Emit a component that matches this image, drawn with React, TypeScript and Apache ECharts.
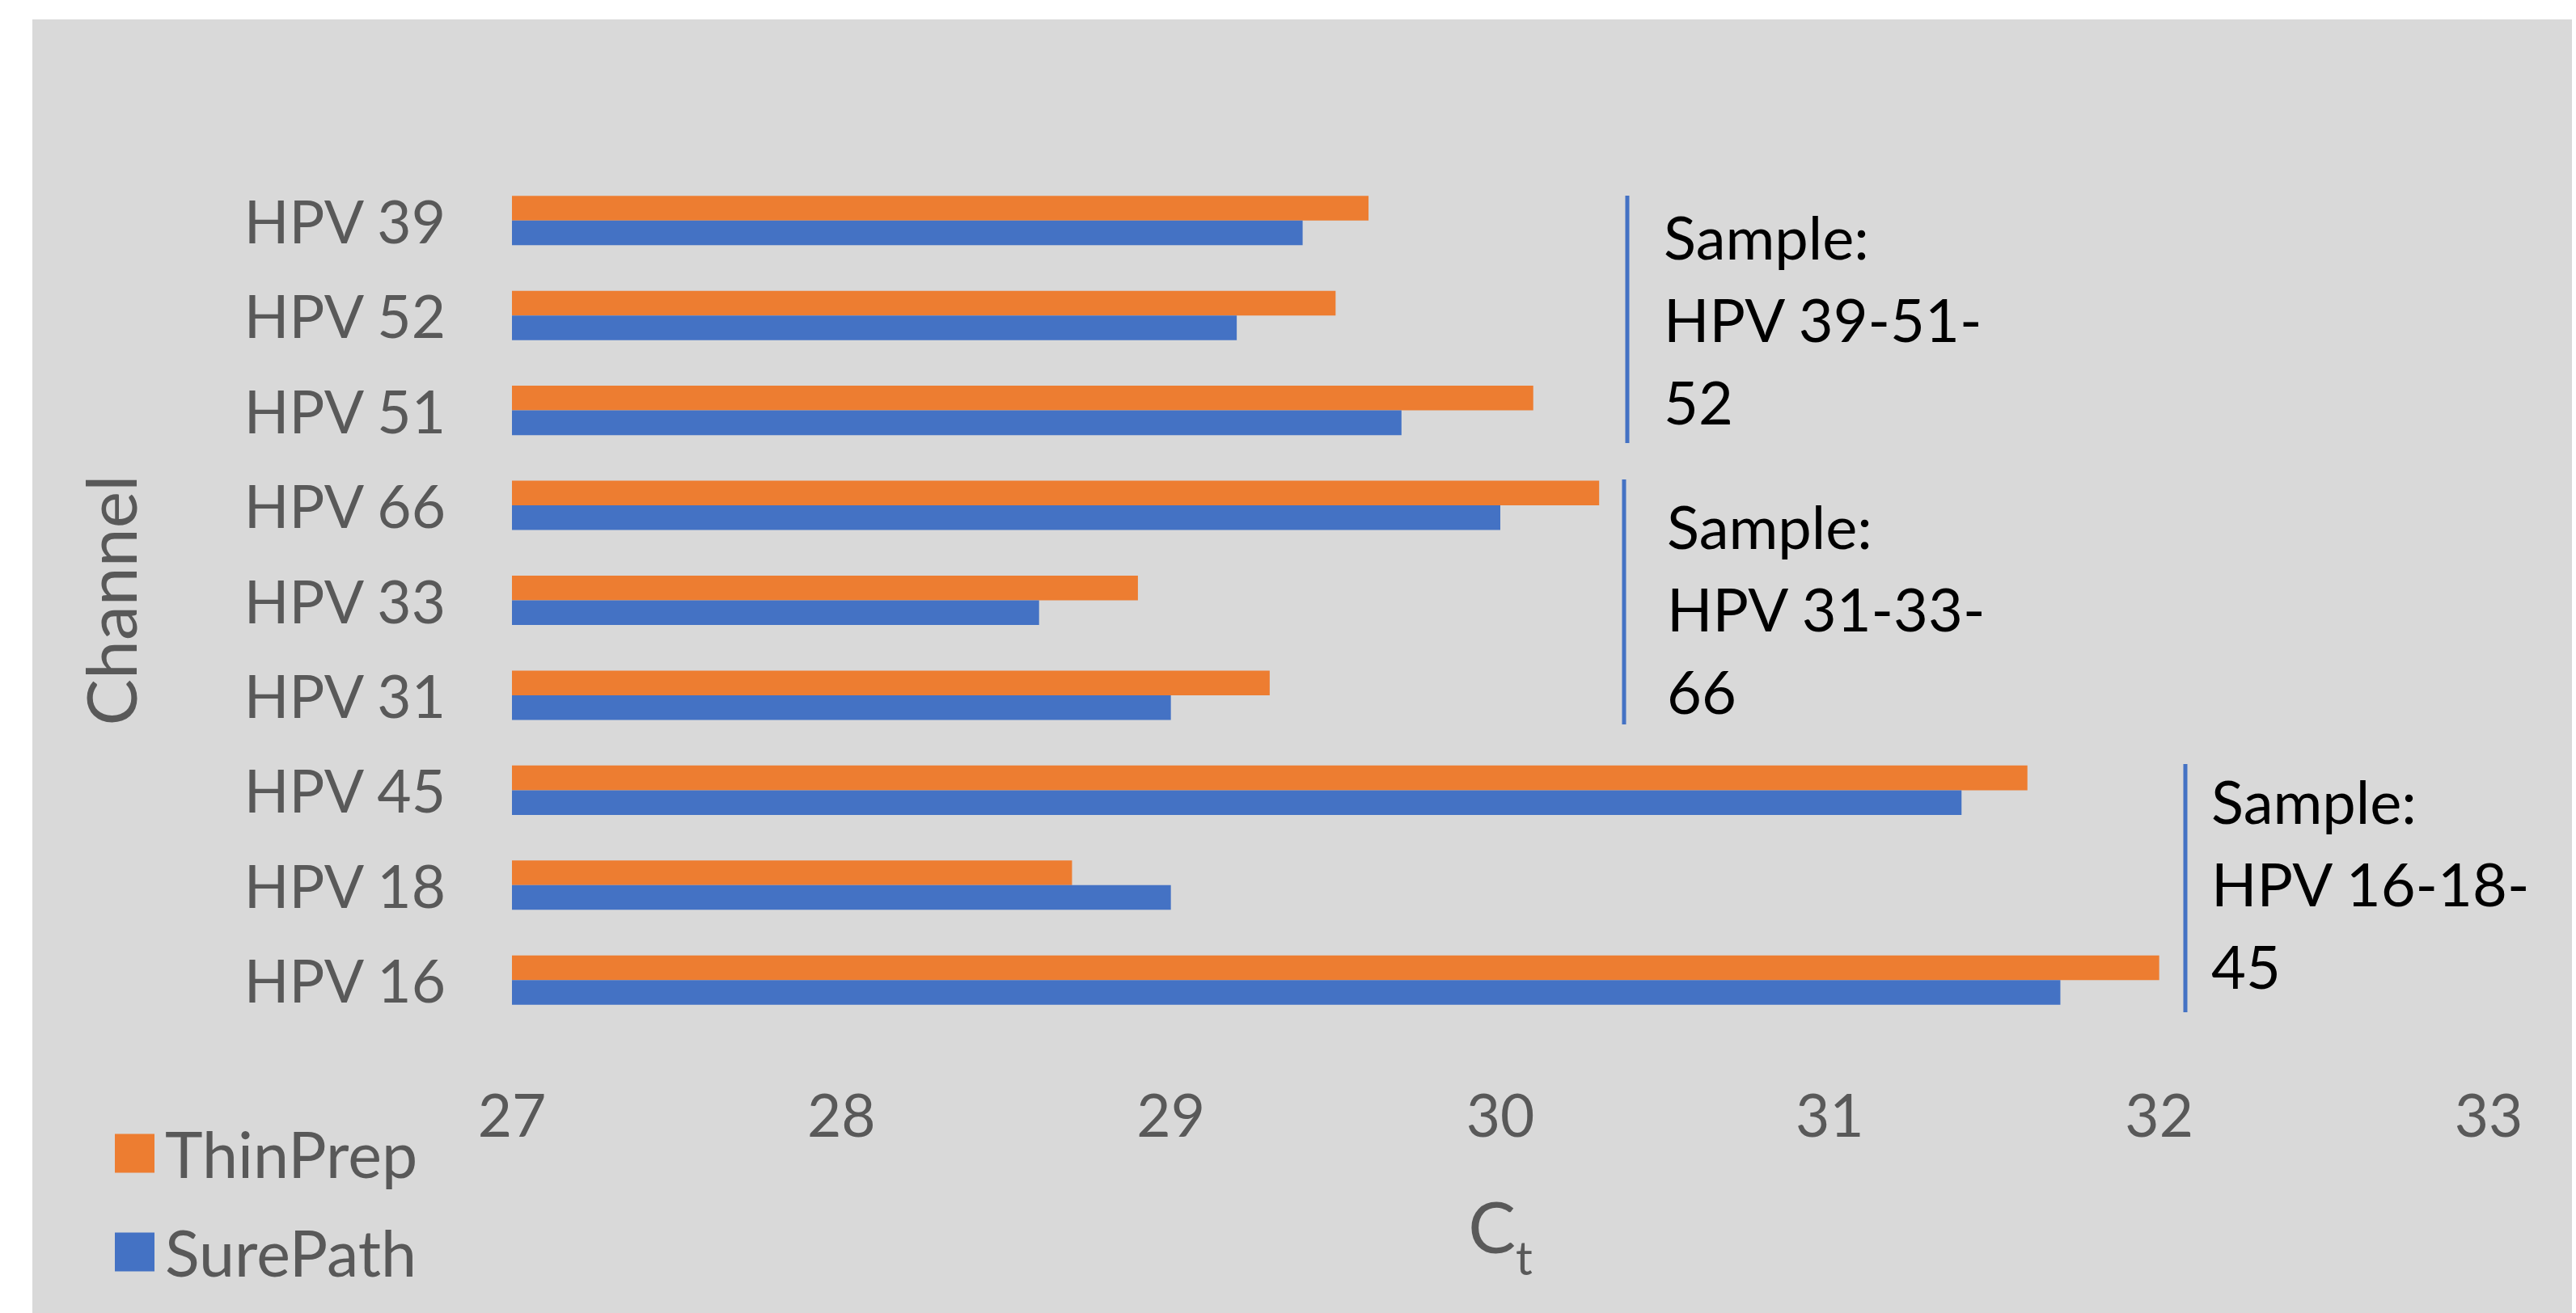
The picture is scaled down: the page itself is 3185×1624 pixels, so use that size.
import React, { useEffect, useRef } from "react";
import * as echarts from "echarts";

const categories = ["HPV 39", "HPV 52", "HPV 51", "HPV 66", "HPV 33", "HPV 31", "HPV 45", "HPV 18", "HPV 16"];
const thinPrep = [29.6, 29.5, 30.1, 30.3, 28.9, 29.3, 31.6, 28.7, 32.0];
const surePath = [29.4, 29.2, 29.7, 30.0, 28.6, 29.0, 31.4, 29.0, 31.7];
const seriesNames = ["ThinPrep", "SurePath"];
const sampleNotes = ["Sample:\nHPV 39-51-\n52", "Sample:\nHPV 31-33-\n66", "Sample:\nHPV 16-18-\n45"];

const FONT = "Lato";
const GREY = "#595959";

export default function App() {
  const ref = useRef<HTMLDivElement>(null);
  useEffect(() => {
    document.body.style.margin = "0";
    const chart = echarts.init(ref.current!, undefined, { renderer: "svg" });
    chart.setOption({
      animation: false,
      backgroundColor: "#ffffff",
      graphic: [
        { type: "rect", z: -10, silent: true, shape: { x: 40, y: 24, width: 3140, height: 1600 }, style: { fill: "#D9D9D9" } },
        { type: "line", shape: { x1: 2012, y1: 242, x2: 2012, y2: 548 }, style: { stroke: "#4472C4", lineWidth: 5 } },
        { type: "line", shape: { x1: 2008, y1: 593, x2: 2008, y2: 896 }, style: { stroke: "#4472C4", lineWidth: 5 } },
        { type: "line", shape: { x1: 2702, y1: 945, x2: 2702, y2: 1252 }, style: { stroke: "#4472C4", lineWidth: 5 } },
        { type: "text", x: 2057, y: 241, style: { text: sampleNotes[0], font: `74px ${FONT}`, fill: "#000000", lineHeight: 102, verticalAlign: "top" } },
        { type: "text", x: 2061, y: 599, style: { text: sampleNotes[1], font: `74px ${FONT}`, fill: "#000000", lineHeight: 102, verticalAlign: "top" } },
        { type: "text", x: 2734, y: 939, style: { text: sampleNotes[2], font: `74px ${FONT}`, fill: "#000000", lineHeight: 102, verticalAlign: "top" } },
      ],
      legend: {
        orient: "vertical",
        left: 137,
        top: 1382,
        itemWidth: 49,
        itemHeight: 48,
        itemGap: 43,
        icon: "rect",
        data: seriesNames,
        textStyle: { fontFamily: FONT, fontSize: 79, color: GREY, padding: [0, 0, 0, 8] },
      },
      grid: { left: 633, right: 108, top: 214, bottom: 353, containLabel: false },
      xAxis: {
        type: "value",
        min: 27,
        max: 33,
        interval: 1,
        axisLine: { show: false },
        axisTick: { show: false },
        splitLine: { show: false },
        axisLabel: { fontFamily: FONT, fontSize: 73, color: GREY, margin: 70 },
        name: "{c|C}{t|t}",
        nameLocation: "middle",
        nameGap: 178,
        nameTextStyle: {
          rich: {
            c: { fontFamily: FONT, fontSize: 88, color: GREY },
            t: { fontFamily: FONT, fontSize: 58, color: GREY, padding: [76, 0, 0, 0] },
          },
        },
      },
      yAxis: {
        type: "category",
        data: categories,
        inverse: true,
        axisLine: { show: false },
        axisTick: { show: false },
        splitLine: { show: false },
        axisLabel: { fontFamily: FONT, fontSize: 73, color: GREY, margin: 82 },
        name: "Channel",
        nameLocation: "middle",
        nameRotate: 90,
        nameGap: 455,
        nameTextStyle: { fontFamily: FONT, fontSize: 86, color: GREY },
      },
      series: [
        { name: seriesNames[0], type: "bar", data: thinPrep, itemStyle: { color: "#ED7D31" }, barGap: "0%", barCategoryGap: "48%" },
        { name: seriesNames[1], type: "bar", data: surePath, itemStyle: { color: "#4472C4" }, barGap: "0%", barCategoryGap: "48%" },
      ],
    });
    return () => chart.dispose();
  }, []);
  return <div ref={ref} style={{ width: 3185, height: 1624 }} />;
}
